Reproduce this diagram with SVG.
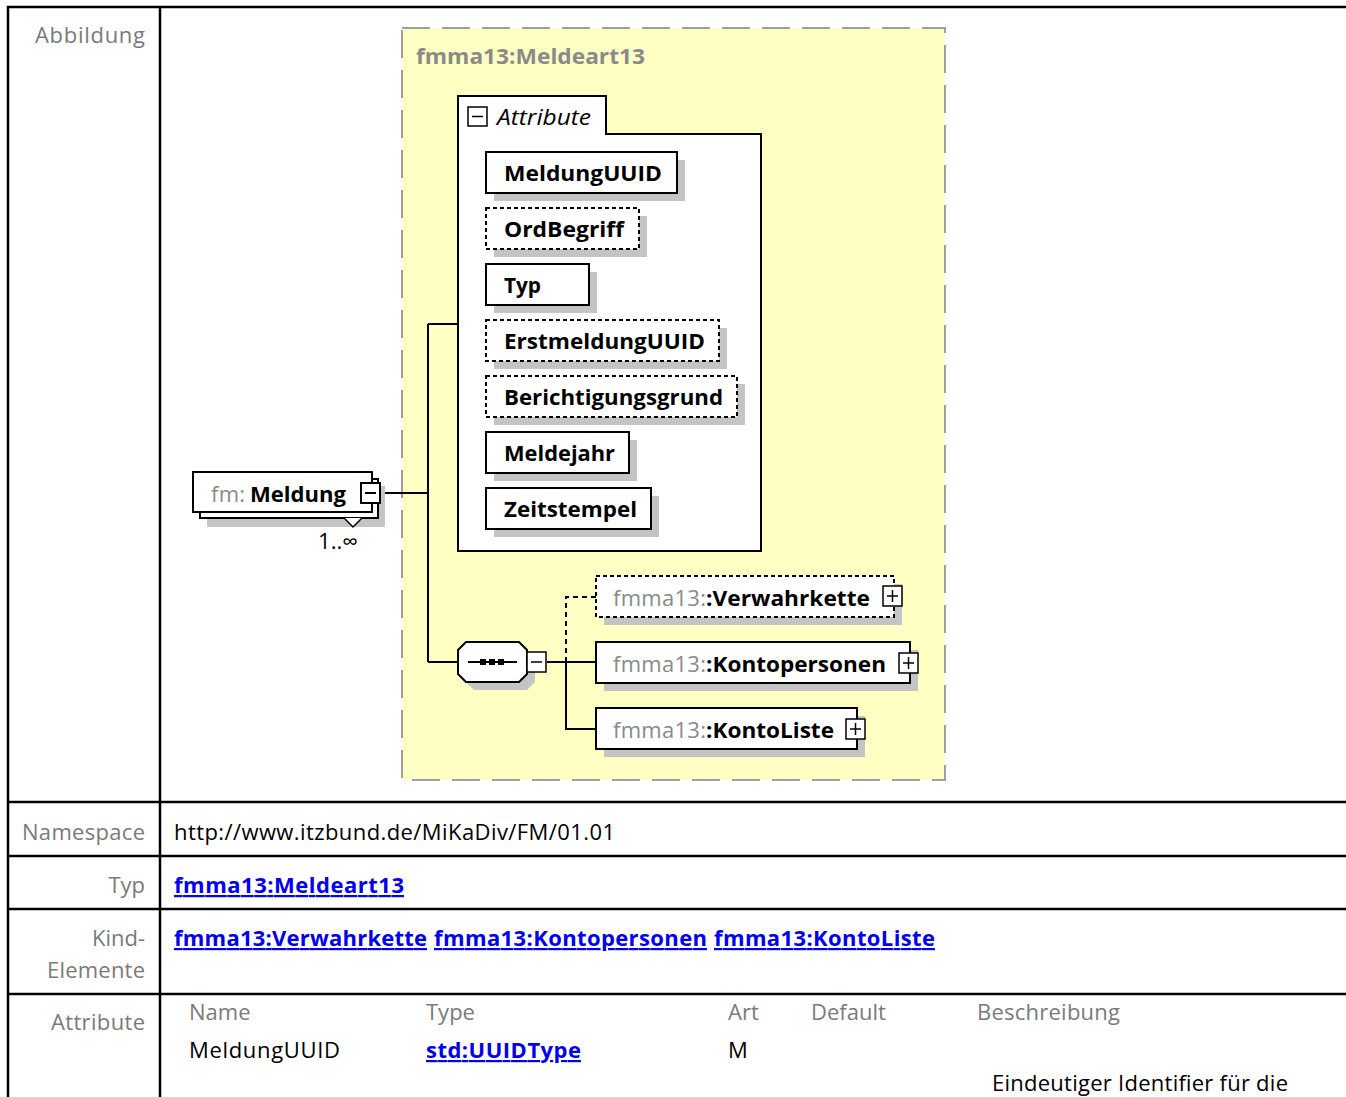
<svg xmlns="http://www.w3.org/2000/svg" width="1346" height="1097" viewBox="0 0 1346 1097">
<style>
.lbl{font-family:"Open Sans","Noto Sans","Liberation Sans",sans-serif;font-size:22px;fill:#7a7a7a;text-anchor:end}
.txt{font-family:"Open Sans","Noto Sans","Liberation Sans",sans-serif;font-size:22px;fill:#000}
.hdr{font-family:"Open Sans","Noto Sans","Liberation Sans",sans-serif;font-size:22px;fill:#7a7a7a}
.lnk{font-family:"Open Sans","Noto Sans","Liberation Sans",sans-serif;font-size:22px;font-weight:bold;fill:#0000ee;text-decoration:underline}
.tl{stroke:#000;stroke-width:2.5;fill:none}
.nb{font-family:"Open Sans","Noto Sans","Liberation Sans",sans-serif;font-size:22px;font-weight:bold;fill:#000}
.box{fill:#fff;stroke:#000;stroke-width:2}
.dbox{fill:#fff;stroke:#000;stroke-width:2;stroke-dasharray:4 3}
.sh{fill:#c4c4c4}
.ln{stroke:#000;stroke-width:2;fill:none}
.dl{stroke:#000;stroke-width:2;fill:none;stroke-dasharray:5 4}
</style>
<rect width="1346" height="1097" fill="#fff"/>
<g id="table">
<path class="tl" d="M8 1097V7H1346M160 7V1097M8 802H1346M8 856H1346M8 909H1346M8 994H1346"/>
<text class="lbl" x="145" y="43" textLength="110">Abbildung</text>
<text class="lbl" x="145" y="840" textLength="123">Namespace</text>
<text class="lbl" x="145" y="893">Typ</text>
<text class="lbl" x="145" y="946">Kind-</text>
<text class="lbl" x="145" y="978" textLength="98">Elemente</text>
<text class="lbl" x="145" y="1030" textLength="94">Attribute</text>
<text class="txt" x="174" y="840" textLength="441">http://www.itzbund.de/MiKaDiv/FM/01.01</text>
<text class="lnk" x="174" y="893" textLength="230">fmma13:Meldeart13</text>
<text class="lnk" x="174" y="946" textLength="253">fmma13:Verwahrkette</text>
<text class="lnk" x="434" y="946" textLength="273">fmma13:Kontopersonen</text>
<text class="lnk" x="714" y="946" textLength="221">fmma13:KontoListe</text>
<text class="hdr" x="189" y="1020">Name</text>
<text class="hdr" x="426" y="1020">Type</text>
<text class="hdr" x="728" y="1020">Art</text>
<text class="hdr" x="811" y="1020">Default</text>
<text class="hdr" x="977" y="1020" textLength="143">Beschreibung</text>
<text class="txt" x="189" y="1058" textLength="151">MeldungUUID</text>
<text class="lnk" x="426" y="1058" textLength="155">std:UUIDType</text>
<text class="txt" x="728" y="1058">M</text>
<text class="txt" x="992" y="1091" textLength="296">Eindeutiger Identifier für die</text>
</g>
<g id="type-box">
<rect x="402" y="28" width="543" height="752" fill="#ffffc4" stroke="#a0a0a0" stroke-width="2" stroke-dasharray="28 12"/>
<text x="416" y="64" font-family="Open Sans,Noto Sans,sans-serif" font-size="22" font-weight="bold" fill="#8a8a8a" textLength="229" lengthAdjust="spacingAndGlyphs">fmma13:Meldeart13</text>
</g>
<g id="connectors">
<path class="ln" d="M380 493H428M428 324V662M428 324H458M428 662H458"/>
<path class="ln" d="M547 662H596M566 662V729H596"/>
<path class="dl" d="M566 662V597H596"/>
</g>
<g id="meldung">
<rect class="sh" x="207" y="486" width="178" height="41"/>
<rect class="box" x="200" y="479" width="178" height="39"/>
<rect class="box" x="193" y="472" width="179" height="40"/>
<polyline points="344,518 353,527 362,518" fill="#fff" stroke="#000" stroke-width="1.5"/>
<text x="211" y="502" font-family="Open Sans,Noto Sans,sans-serif" font-size="22" fill="#8a8a8a" textLength="34">fm:</text>
<text x="250" y="502" font-family="Open Sans,Noto Sans,sans-serif" font-size="22" font-weight="bold" fill="#000" textLength="96" lengthAdjust="spacingAndGlyphs">Meldung</text>
<rect class="box" x="361" y="483" width="19" height="20"/>
<path class="ln" d="M365 493H376" stroke-width="1.5"/>
<text x="318" y="549" font-family="Open Sans,Noto Sans,sans-serif" font-size="21" fill="#000" textLength="40" lengthAdjust="spacingAndGlyphs">1..∞</text>
</g>
<g id="attributes">
<path d="M458 96H606V134H761V551H458Z" fill="#fff" stroke="#000" stroke-width="2"/>
<rect x="468" y="107" width="19" height="19" fill="#fff" stroke="#000" stroke-width="1.5"/>
<path d="M472 116.5H483" stroke="#000" stroke-width="1.5"/>
<text x="497" y="125" font-family="Open Sans,Noto Sans,sans-serif" font-size="22" font-style="italic" fill="#000" textLength="94" lengthAdjust="spacingAndGlyphs">Attribute</text>
</g>
<g id="attr-MeldungUUID"><rect class="sh" x="494" y="160" width="191" height="41"/><rect class="box" x="486" y="152" width="191" height="41"/><text class="nb" x="504" y="181" textLength="158" lengthAdjust="spacingAndGlyphs">MeldungUUID</text></g>
<g id="attr-OrdBegriff"><rect class="sh" x="494" y="216" width="153" height="41"/><rect class="dbox" x="486" y="208" width="153" height="41"/><text class="nb" x="504" y="237" textLength="120" lengthAdjust="spacingAndGlyphs">OrdBegriff</text></g>
<g id="attr-Typ"><rect class="sh" x="494" y="272" width="103" height="41"/><rect class="box" x="486" y="264" width="103" height="41"/><text class="nb" x="504" y="293" textLength="37" lengthAdjust="spacingAndGlyphs">Typ</text></g>
<g id="attr-ErstmeldungUUID"><rect class="sh" x="494" y="328" width="233" height="41"/><rect class="dbox" x="486" y="320" width="233" height="41"/><text class="nb" x="504" y="349" textLength="201" lengthAdjust="spacingAndGlyphs">ErstmeldungUUID</text></g>
<g id="attr-Berichtigungsgrund"><rect class="sh" x="494" y="384" width="251" height="41"/><rect class="dbox" x="486" y="376" width="251" height="41"/><text class="nb" x="504" y="405" textLength="219" lengthAdjust="spacingAndGlyphs">Berichtigungsgrund</text></g>
<g id="attr-Meldejahr"><rect class="sh" x="494" y="440" width="143" height="41"/><rect class="box" x="486" y="432" width="143" height="41"/><text class="nb" x="504" y="461" textLength="111" lengthAdjust="spacingAndGlyphs">Meldejahr</text></g>
<g id="attr-Zeitstempel"><rect class="sh" x="494" y="496" width="165" height="41"/><rect class="box" x="486" y="488" width="165" height="41"/><text class="nb" x="504" y="517" textLength="133" lengthAdjust="spacingAndGlyphs">Zeitstempel</text></g>
<g id="sequence">
<polygon points="474,650 527,650 535,658 535,682 527,690 474,690 466,682 466,658" class="sh"/>
<polygon points="466,642 519,642 527,650 527,674 519,682 466,682 458,674 458,650" fill="#fff" stroke="#000" stroke-width="2"/>
<path class="ln" d="M468 662H517"/>
<rect x="480" y="659" width="6" height="6"/><rect x="489" y="659" width="6" height="6"/><rect x="498" y="659" width="6" height="6"/>
<rect x="527" y="652" width="19" height="20" fill="#fff" stroke="#000" stroke-width="1.5"/>
<path d="M531 662H542" stroke="#000" stroke-width="1.5"/>
</g>
<g id="Verwahrkette">
<rect class="sh" x="604" y="584" width="298" height="41"/>
<rect class="dbox" x="596" y="576" width="298" height="41"/>
<text x="613" y="606" font-family="Open Sans,Noto Sans,sans-serif" font-size="22" fill="#8a8a8a" textLength="93">fmma13:</text>
<text x="706" y="606" font-family="Open Sans,Noto Sans,sans-serif" font-size="22" font-weight="bold" fill="#000" textLength="164" lengthAdjust="spacingAndGlyphs">:Verwahrkette</text>
<rect x="883" y="586" width="19" height="20" fill="#fff" stroke="#000" stroke-width="1.5"/>
<path d="M887 596H898M892.5 590V602" stroke="#000" stroke-width="1.5"/>
</g>
<g id="Kontopersonen">
<rect class="sh" x="604" y="650" width="314" height="41"/>
<rect class="box" x="596" y="642" width="314" height="41"/>
<text x="613" y="672" font-family="Open Sans,Noto Sans,sans-serif" font-size="22" fill="#8a8a8a" textLength="93">fmma13:</text>
<text x="706" y="672" font-family="Open Sans,Noto Sans,sans-serif" font-size="22" font-weight="bold" fill="#000" textLength="180" lengthAdjust="spacingAndGlyphs">:Kontopersonen</text>
<rect x="899" y="653" width="19" height="20" fill="#fff" stroke="#000" stroke-width="1.5"/>
<path d="M903 663H914M908.5 657V669" stroke="#000" stroke-width="1.5"/>
</g>
<g id="KontoListe">
<rect class="sh" x="604" y="716" width="261" height="41"/>
<rect class="box" x="596" y="708" width="261" height="41"/>
<text x="613" y="738" font-family="Open Sans,Noto Sans,sans-serif" font-size="22" fill="#8a8a8a" textLength="93">fmma13:</text>
<text x="706" y="738" font-family="Open Sans,Noto Sans,sans-serif" font-size="22" font-weight="bold" fill="#000" textLength="128" lengthAdjust="spacingAndGlyphs">:KontoListe</text>
<rect x="846" y="719" width="19" height="20" fill="#fff" stroke="#000" stroke-width="1.5"/>
<path d="M850 729H861M855.5 723V735" stroke="#000" stroke-width="1.5"/>
</g>
</svg>
